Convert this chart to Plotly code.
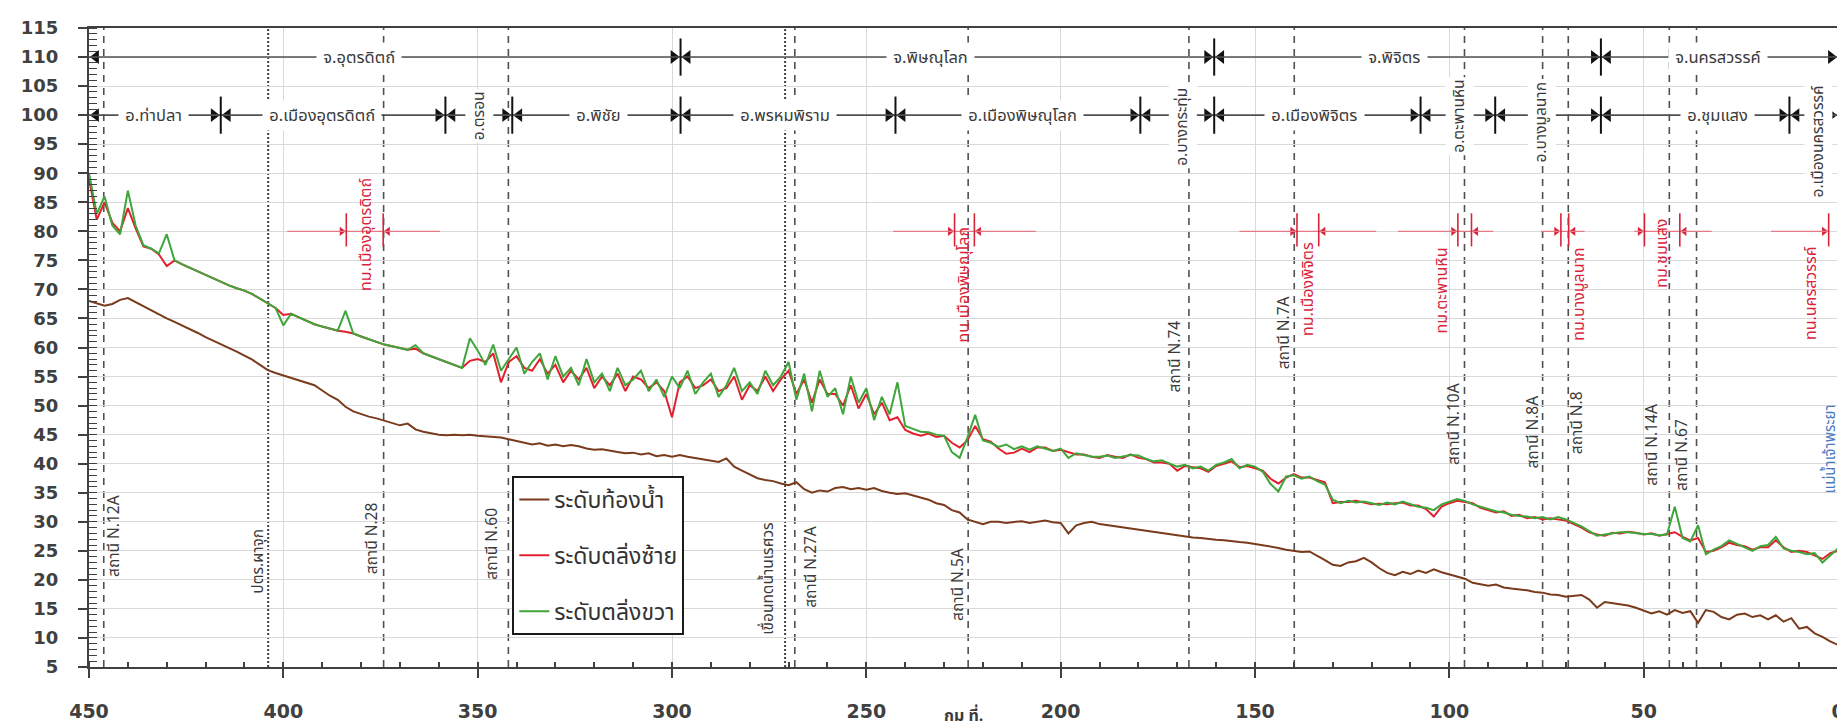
import plotly.graph_objects as go

# ---------------- data (km from river mouth, levels in m MSL) ----------------
km = list(range(450, -1, -2))

bed_level = [
    68.0, 67.6, 67.2, 67.5, 68.2, 68.5, 67.8, 67.0, 66.3, 65.6,
    65.0, 64.4, 63.8, 63.1, 62.5, 61.8, 61.2, 60.6, 60.0, 59.3,
    58.6, 57.9, 57.0, 56.1, 55.6, 55.2, 54.8, 54.3, 53.9, 53.5,
    52.6, 51.7, 51.0, 49.8, 49.0, 48.5, 48.1, 47.8, 47.4, 47.0,
    46.6, 46.9, 45.9, 45.5, 45.2, 45.0, 44.9, 45.0, 44.9, 45.0,
    44.8, 44.7, 44.6, 44.5, 44.2, 43.9, 43.6, 43.3, 43.5, 43.1,
    43.3, 43.0, 43.2, 43.0, 42.6, 42.4, 42.5, 42.2, 42.0, 41.8,
    41.9, 41.6, 41.8, 41.3, 41.5, 41.2, 41.5, 41.2, 41.0, 40.7,
    40.5, 40.3, 40.9, 39.5, 38.8, 38.2, 37.5, 37.2, 37.0, 36.6,
    36.3, 36.8, 35.6, 35.0, 35.4, 35.2, 35.8, 36.0, 35.6, 35.8,
    35.5, 35.8, 35.3, 35.0, 34.8, 34.9, 34.5, 34.2, 33.8, 33.2,
    32.9, 32.0, 31.6, 30.4, 30.0, 29.6, 30.0, 30.0, 29.8, 30.0,
    30.1, 29.8, 30.0, 30.2, 29.9, 29.8, 28.0, 29.4, 29.8, 30.0,
    29.6, 29.4, 29.2, 29.0, 28.8, 28.6, 28.4, 28.2, 28.0, 27.8,
    27.6, 27.5, 27.3, 27.2, 27.0, 26.9, 26.8, 26.6, 26.5, 26.4,
    26.2, 26.0, 25.8, 25.5, 25.2, 25.0, 24.8, 24.9, 24.2, 23.4,
    22.6, 22.4, 23.0, 23.2, 23.8, 23.0, 22.0, 21.2, 20.8, 21.4,
    21.0, 21.6, 21.2, 21.8, 21.3, 20.9, 20.6, 20.2, 19.5, 19.3,
    19.0, 19.2, 18.7, 18.5, 18.4, 18.2, 17.9, 17.8, 17.5, 17.4,
    17.1, 17.2, 17.4, 16.6, 15.2, 16.2, 16.0, 15.8, 15.6, 15.2,
    14.7, 14.2, 14.6, 14.0, 14.8, 14.3, 14.6, 12.6, 14.8, 14.5,
    13.6, 13.2, 14.0, 14.2, 13.6, 13.9, 13.2, 13.9, 12.8, 13.4,
    11.6, 11.9, 10.8, 10.2, 9.4, 8.8,
]

left_bank = [
    89.0, 82.0, 85.0, 81.5, 80.0, 84.0, 80.5, 77.4, 77.0, 76.0,
    74.0, 75.0, 74.3, 73.7, 73.0, 72.4, 71.8, 71.2, 70.7, 70.2,
    69.8, 69.2, 68.4, 67.6, 66.8, 65.6, 65.8, 65.2, 64.6, 64.0,
    63.6, 63.2, 62.9, 62.7, 62.4, 61.9, 61.4, 61.0, 60.5, 60.2,
    59.9, 59.6, 59.8, 59.0, 58.5, 58.0, 57.5, 57.0, 56.5, 57.7,
    58.0, 57.5, 59.0, 54.0, 57.5, 58.5, 56.5, 56.0, 58.0, 55.5,
    57.0, 54.0, 56.0, 54.5, 56.5, 53.0, 55.0, 53.5, 55.5, 52.5,
    55.0, 54.5, 53.0, 54.0, 52.5, 48.0, 54.0, 55.0, 53.0, 53.5,
    54.5, 52.5, 53.0, 55.0, 51.0, 53.5, 52.5, 55.0, 52.5, 54.5,
    56.0, 52.0, 54.5, 50.5, 54.5, 52.0, 52.0, 50.0, 53.5, 49.5,
    52.0, 48.5, 50.5, 47.5, 48.0, 45.8, 45.2, 44.8, 45.2, 44.6,
    44.8, 43.6, 42.8, 44.0, 46.5, 44.2, 43.8, 42.6, 41.7, 41.9,
    42.6, 42.0, 42.8, 42.8, 42.2, 42.4, 42.0, 41.6, 41.6, 41.2,
    41.0, 41.5, 41.2, 41.0, 41.6, 41.0, 40.8, 40.2, 40.2, 40.0,
    38.8, 39.6, 39.4, 39.2, 38.6, 39.6, 40.0, 40.4, 39.4, 39.6,
    39.2, 38.8, 37.4, 36.6, 37.6, 38.2, 37.6, 37.6, 37.2, 36.8,
    33.2, 33.4, 33.4, 33.6, 33.3, 33.0, 33.1, 33.0, 33.2, 33.3,
    32.8, 32.8, 32.2, 30.9, 32.6, 33.2, 33.6, 33.4, 33.2, 32.4,
    32.0, 31.6, 31.8, 31.0, 31.2, 30.6, 30.8, 30.4, 30.6, 30.4,
    30.2, 29.6, 29.0, 28.2, 27.8, 27.6, 28.1, 28.0, 28.3, 28.1,
    27.8, 28.0, 27.6, 27.9, 28.2, 27.4, 26.8, 27.2, 24.8, 25.0,
    25.6, 26.4, 26.0, 25.8, 25.2, 25.6, 25.6, 26.8, 25.6, 24.8,
    25.0, 24.8, 24.2, 23.6, 24.6, 25.0,
]

right_bank = [
    90.0, 83.0, 86.0, 81.0, 79.5, 87.0, 81.0, 77.6, 77.0, 76.2,
    79.5, 75.0, 74.3, 73.7, 73.0, 72.4, 71.8, 71.2, 70.7, 70.2,
    69.8, 69.2, 68.4, 67.6, 66.8, 63.8, 65.8, 65.2, 64.6, 64.0,
    63.6, 63.2, 62.9, 66.3, 62.4, 61.9, 61.4, 61.0, 60.5, 60.2,
    59.9, 59.6, 60.4, 59.0, 58.5, 58.0, 57.5, 57.0, 56.5, 61.6,
    59.5, 57.0, 60.5, 56.0, 58.0, 60.0, 55.5, 57.5, 59.0, 54.5,
    58.5, 55.0, 56.5, 53.5, 58.0, 54.0, 55.5, 52.5, 56.5, 53.5,
    54.5, 56.0, 52.5, 54.5, 51.5, 55.0, 53.0, 56.0, 52.0, 54.0,
    55.5, 51.5, 53.5, 56.5, 52.5, 54.0, 52.0, 56.0, 53.5, 55.0,
    57.5, 51.0, 55.5, 49.0, 56.0, 51.5, 53.0, 48.5, 55.0, 50.5,
    53.0, 47.5, 51.5, 48.5, 54.0, 46.5, 46.0, 45.5, 45.4, 45.0,
    44.8, 42.0, 41.0, 44.5, 48.4, 44.0, 43.6, 42.9, 43.3, 42.5,
    43.0, 42.4, 43.0, 42.6, 42.2, 42.6, 41.0, 41.8, 41.5, 41.2,
    41.2, 41.4, 41.0, 41.3, 41.5, 41.4, 40.8, 40.4, 40.6, 40.0,
    39.5, 39.8, 39.2, 39.5, 38.8, 39.8, 40.2, 40.8, 39.2, 39.8,
    39.5, 38.6, 36.5, 35.2, 37.8, 38.0, 37.4, 37.8, 37.0, 36.4,
    33.8, 33.2, 33.6, 33.3, 33.5, 33.2, 32.9, 33.3, 33.0, 33.5,
    33.0, 32.6, 32.4, 32.0, 33.0, 33.5, 33.9, 33.6, 33.0, 32.6,
    32.2, 31.8, 31.6, 31.2, 31.0, 30.9, 30.6, 30.8, 30.4, 30.8,
    30.4, 29.8, 29.2, 28.4, 27.6, 27.8, 28.0, 28.2, 28.2, 28.0,
    27.9, 27.9, 27.7, 27.8, 32.6, 27.2, 26.6, 29.4, 24.4, 25.2,
    25.8, 26.8, 26.2, 25.6, 25.0, 25.8, 26.0, 27.4, 25.4, 25.0,
    24.8, 24.4, 24.6, 23.0, 24.2, 25.4,
]

assert len(km) == len(bed_level) == len(left_bank) == len(right_bank)

series_names = ["ระดับท้องน้ำ", "ระดับตลิ่งซ้าย", "ระดับตลิ่งขวา"]
series_colors = ["#7a3b1c", "#e3202e", "#3ea63a"]

# administrative boundaries (km)
province_bounds = [450, 297.8, 160.5, 61.0, 0]
province_names = ["จ.อุตรดิตถ์", "จ.พิษณุโลก", "จ.พิจิตร", "จ.นครสวรรค์"]
province_label_km = [380.6, 233.5, 114.2, 30.9]

district_bounds = [450, 416.1, 358.3, 341.1, 297.8, 242.5, 179.5, 160.5, 107.4, 88.2, 61.0, 12.5, 0]
district_names = ["อ.ท่าปลา", "อ.เมืองอุตรดิตถ์", "อ.ตรอน", "อ.พิชัย", "อ.พรหมพิราม",
                  "อ.เมืองพิษณุโลก", "อ.บางกระทุ่ม", "อ.เมืองพิจิตร", "อ.ตะพานหิน",
                  "อ.บางมูลนาก", "อ.ชุมแสง", "อ.เมืองนครสวรรค์"]
district_label_km = [433.3, 390.0, 349.5, 318.8, 270.9, 209.8, 168.5, 134.8, 97.4, 76.3, 30.9, 5.1]
district_label_y = [100, 100, 99.9, 100, 100, 100, 98.0, 100, 99.8, 98.8, 100, 95.5]
district_vertical = [False, False, True, False, False, False, True, False, True, True, False, True]

# gauging stations (dashed lines)
station_names = ["สถานี N.12A", "สถานี N.28", "สถานี N.60", "สถานี N.27A", "สถานี N.5A",
                 "สถานี N.74", "สถานี N.7A", "สถานี N.10A", "สถานี N.8A", "สถานี N.8",
                 "สถานี N.14A", "สถานี N.67"]
station_km = [446.2, 374.2, 342.1, 268.4, 223.8, 167.0, 139.9, 96.1, 76.0, 69.4, 43.4, 36.4]
station_label_km = [443.4, 377.0, 346.1, 264.3, 226.3, 170.5, 142.2, 98.7, 78.4, 67.1, 47.8, 39.9]
station_label_y = [27.5, 27.1, 26.2, 22.2, 19.2, 58.5, 62.5, 46.9, 45.4, 47.0, 43.3, 41.5]

# hydraulic structures (dotted lines)
structure_names = ["ปตร.ผาจุก", "เขื่อนทดน้ำนเรศวร"]
structure_km = [403.9, 270.9]
structure_label_km = [406.4, 275.0]
structure_label_y = [23.2, 20.2]

# municipalities (red markers)
town_names = ["ทม.เมืองอุตรดิตถ์", "ทน.เมืองพิษณุโลก", "ทม.เมืองพิจิตร", "ทม.ตะพานหิน",
              "ทม.บางมูลนาก", "ทม.ชุมแสง", "ทน.นครสวรรค์"]
town_line_from = [399.0, 243.1, 154.0, 113.2, 76.4, 52.4, 17.2]
town_line_to = [359.7, 206.4, 118.8, 88.7, 65.2, 32.5, 2.4]
town_bar_up = [383.8, 227.3, 139.2, 97.8, 71.3, 49.8, 2.4]
town_bar_down = [374.3, 222.2, 133.6, 94.3, 69.3, 40.7, None]
town_label_km = [378.8, 224.8, 136.2, 101.9, 66.7, 45.3, 6.9]
town_label_y = [79.5, 70.9, 70.0, 69.8, 69.2, 76.3, 69.4]
TOWN_ROW = 80

river_name = "แม่น้ำเจ้าพระยา"
river_label = (2.0, 42.5)

PROV_ROW, DIST_ROW = 110, 100

# ---------------- figure ----------------
FONT = "Tahoma, 'Noto Sans Thai', 'Noto Sans', 'DejaVu Sans', sans-serif"
DARK = "#3a3a3a"
PX_PER_KM = 1756 / 450.0

fig = go.Figure()

for name, col, ys in zip(series_names, series_colors, [bed_level, left_bank, right_bank]):
    fig.add_trace(go.Scatter(x=km, y=ys, mode="lines", name=name,
                             line=dict(color=col, width=2), legendgroup=name))

shapes = []
for yrow in (PROV_ROW, DIST_ROW):
    shapes.append(dict(type="line", xref="x", yref="y", x0=450, x1=0, y0=yrow, y1=yrow,
                       line=dict(color="#505050", width=1.6), layer="above"))
for bnds, yrow in ((province_bounds, PROV_ROW), (district_bounds, DIST_ROW)):
    for b in bnds[1:-1]:
        shapes.append(dict(type="line", xref="x", yref="y", x0=b, x1=b, y0=yrow - 3.2, y1=yrow + 3.2,
                           line=dict(color="#111111", width=2), layer="above"))
for s in station_km:
    shapes.append(dict(type="line", xref="x", yref="y", x0=s, x1=s, y0=5, y1=115,
                       line=dict(color="#505050", width=1.6, dash="7px,6px"), layer="below"))
for s in structure_km:
    shapes.append(dict(type="line", xref="x", yref="y", x0=s, x1=s, y0=5, y1=115,
                       line=dict(color="#404040", width=2, dash="2px,2px"), layer="below"))
for a, b, u, d in zip(town_line_from, town_line_to, town_bar_up, town_bar_down):
    shapes.append(dict(type="line", xref="x", yref="y", x0=a, x1=b, y0=TOWN_ROW, y1=TOWN_ROW,
                       line=dict(color="#e47a85", width=1.3), layer="above"))
    for bar in (u, d):
        if bar is not None:
            shapes.append(dict(type="line", xref="x", yref="y", x0=bar, x1=bar,
                               y0=TOWN_ROW - 2.6, y1=TOWN_ROW + 3.1,
                               line=dict(color="#d8243a", width=1.6), layer="above"))

off = 6.9 / PX_PER_KM
tri_r, tri_l = [], []
for bnds, yrow in ((province_bounds, PROV_ROW), (district_bounds, DIST_ROW)):
    for b in bnds[1:]:
        tri_r.append((b + off, yrow))
    for b in bnds[:-1]:
        tri_l.append((b - off, yrow))
fig.add_trace(go.Scatter(x=[p[0] for p in tri_r], y=[p[1] for p in tri_r], mode="markers",
                         marker=dict(symbol="triangle-right", size=12, color="#111111"),
                         showlegend=False, hoverinfo="skip", cliponaxis=False))
fig.add_trace(go.Scatter(x=[p[0] for p in tri_l], y=[p[1] for p in tri_l], mode="markers",
                         marker=dict(symbol="triangle-left", size=12, color="#111111"),
                         showlegend=False, hoverinfo="skip", cliponaxis=False))
offr = 4.6 / PX_PER_KM
rr = [u + offr for u in town_bar_up]
rl = [d - offr for d in town_bar_down if d is not None]
fig.add_trace(go.Scatter(x=rr, y=[TOWN_ROW] * len(rr), mode="markers",
                         marker=dict(symbol="triangle-right", size=8, color="#d8243a"),
                         showlegend=False, hoverinfo="skip", cliponaxis=False))
fig.add_trace(go.Scatter(x=rl, y=[TOWN_ROW] * len(rl), mode="markers",
                         marker=dict(symbol="triangle-left", size=8, color="#d8243a"),
                         showlegend=False, hoverinfo="skip", cliponaxis=False))

ann = []
for name, xk in zip(province_names, province_label_km):
    ann.append(dict(x=xk, y=PROV_ROW, text=" " + name + " ", showarrow=False, bgcolor="white",
                    font=dict(size=16.5, color=DARK, family=FONT), borderpad=2))
for name, xk, yk, vert in zip(district_names, district_label_km, district_label_y, district_vertical):
    ann.append(dict(x=xk, y=yk, text=(" " + name + " ") if not vert else name, showarrow=False,
                    bgcolor="white", textangle=-90 if vert else 0,
                    font=dict(size=16.5 if not vert else 15.5, color=DARK, family=FONT), borderpad=2))
for name, xk, yk in zip(station_names, station_label_km, station_label_y):
    ann.append(dict(x=xk, y=yk, text=name, showarrow=False, textangle=-90,
                    font=dict(size=15.5, color=DARK, family=FONT)))
for name, xk, yk in zip(structure_names, structure_label_km, structure_label_y):
    ann.append(dict(x=xk, y=yk, text=name, showarrow=False, textangle=-90,
                    font=dict(size=15.5, color=DARK, family=FONT)))
for name, xk, yk in zip(town_names, town_label_km, town_label_y):
    ann.append(dict(x=xk, y=yk, text=name, showarrow=False, textangle=-90,
                    font=dict(size=16, color="#d8243a", family=FONT)))
ann.append(dict(x=river_label[0], y=river_label[1], text=river_name, showarrow=False, textangle=-90,
                font=dict(size=15, color="#4a78c0", family=FONT)))
ann.append(dict(x=0.5, y=1 - (708 - 20) / 639, xref="paper", yref="paper", text="<b>กม ที่.</b>",
                showarrow=False, yanchor="middle", borderpad=0,
                font=dict(size=16, color=DARK, family=FONT)))
for a in ann:
    a.setdefault("xref", "x")
    a.setdefault("yref", "y")

fig.update_layout(
    width=1845, height=728,
    margin=dict(l=81, r=8, t=20, b=69),
    paper_bgcolor="white", plot_bgcolor="white",
    font=dict(family=FONT, color=DARK),
    shapes=shapes, annotations=ann,
    showlegend=True,
    legend=dict(x=(506 - 81) / 1756, y=1 - (468 - 20) / 639, xanchor="left", yanchor="top",
                bgcolor="white", bordercolor="#1a1a1a", borderwidth=2,
                font=dict(size=23, color="#333333", family=FONT),
                tracegroupgap=23, itemwidth=30),
)
fig.update_xaxes(range=[450, 0], tickmode="linear", tick0=0, dtick=50,
                 showgrid=True, gridcolor="#d9d9d9", gridwidth=1, zeroline=False,
                 showline=True, linecolor="#404040", linewidth=2, mirror=True,
                 ticks="outside", ticklen=9, tickwidth=2, tickcolor="#404040",
                 minor=dict(tickmode="linear", tick0=0, dtick=10, ticks="inside", ticklen=5,
                            tickwidth=1.5, tickcolor="#404040", showgrid=False),
                 tickfont=dict(size=19, color="#404040", family="DejaVu Sans", weight="bold"),
                 ticklabelstandoff=17)
fig.update_yaxes(range=[5, 115], tickmode="linear", tick0=5, dtick=5,
                 showgrid=True, gridcolor="#d9d9d9", gridwidth=1, zeroline=False,
                 showline=True, linecolor="#404040", linewidth=2, mirror=True,
                 ticks="outside", ticklen=9, tickwidth=2, tickcolor="#404040",
                 minor=dict(tickmode="linear", tick0=5, dtick=1, ticks="inside", ticklen=8,
                            tickwidth=1.2, tickcolor="#404040", showgrid=False),
                 tickfont=dict(size=18, color="#404040", family="DejaVu Sans", weight="bold"),
                 ticklabelstandoff=16)

fig.write_html("out.html")
